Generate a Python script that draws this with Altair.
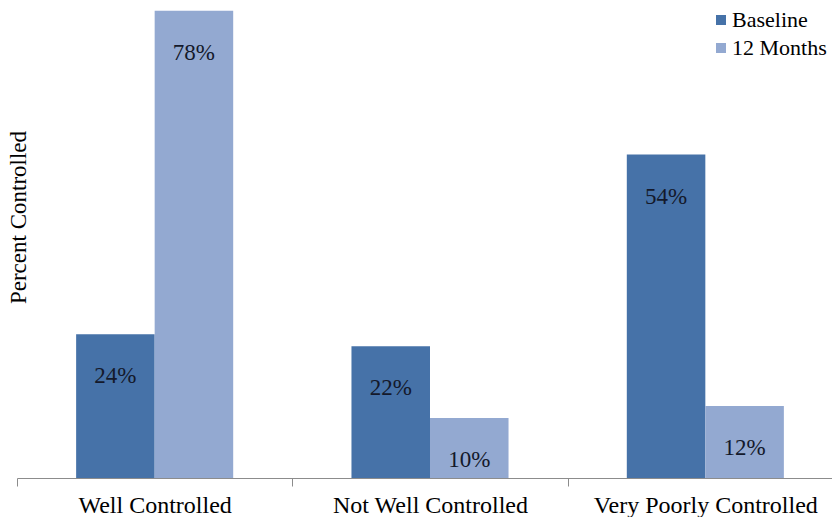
import altair as alt
import pandas as pd

categories = ["Well Controlled", "Not Well Controlled", "Very Poorly Controlled"]
periods = ["Baseline", "12 Months"]
baseline = [24, 22, 54]
months12 = [78, 10, 12]
colors = ["#4672A8", "#93A9D1"]

rows = []
for c, b, m in zip(categories, baseline, months12):
    rows.append({"category": c, "period": "Baseline", "value": b, "label": f"{b}%"})
    rows.append({"category": c, "period": "12 Months", "value": m, "label": f"{m}%"})
df = pd.DataFrame(rows)

FONT = "Liberation Serif"

base = alt.Chart(df).encode(
    x=alt.X(
        "category:N",
        sort=categories,
        scale=alt.Scale(range=[0, 826], paddingInner=0, paddingOuter=0),
        axis=alt.Axis(
            title=None,
            tickBand="extent",
            domainColor="#8c8c8c",
            tickColor="#8c8c8c",
            tickSize=8,
            labelFont=FONT,
            labelFontSize=24,
            labelColor="black",
            labelPadding=7,
            labelAngle=0,
            labelLimit=0,
            grid=False,
        ),
    ),
    xOffset=alt.XOffset(
        "period:N", sort=periods, scale=alt.Scale(paddingInner=0, paddingOuter=0.753)
    ),
    y=alt.Y(
        "value:Q",
        scale=alt.Scale(domain=[0, 79.8], nice=False),
        axis=alt.Axis(
            title="Percent Controlled",
            domain=False,
            ticks=False,
            labels=False,
            grid=False,
            titleX=1,
            titleY=217,
            titleAngle=-90,
            titleAlign="center",
            titleBaseline="middle",
            titleFont=FONT,
            titleFontSize=23,
            titleFontWeight="normal",
            titleColor="black",
        ),
    ),
)

bars = base.mark_bar().encode(
    color=alt.Color(
        "period:N",
        sort=periods,
        scale=alt.Scale(domain=periods, range=colors),
        legend=alt.Legend(
            orient="none",
            legendX=693,
            legendY=9,
            title=None,
            labelFont=FONT,
            labelFontSize=22,
            labelColor="black",
            labelLimit=0,
            symbolType="square",
            symbolSize=100,
            symbolStrokeWidth=0,
            rowPadding=6,
            labelOffset=0,
            padding=0,
        ),
    )
)

labels = base.mark_text(
    baseline="middle", align="center", dy=42, font=FONT, fontSize=23, color="#14192b"
).encode(text="label:N")

chart = (
    alt.layer(bars, labels)
    .properties(
        width=815,
        height=478,
        autosize=alt.AutoSizeParams(type="none"),
        padding={"left": 17, "top": 0, "right": 0, "bottom": 39},
    )
    .configure_view(stroke=None)
)

chart.save("out.html", embed_options={"renderer": "svg", "actions": False})
